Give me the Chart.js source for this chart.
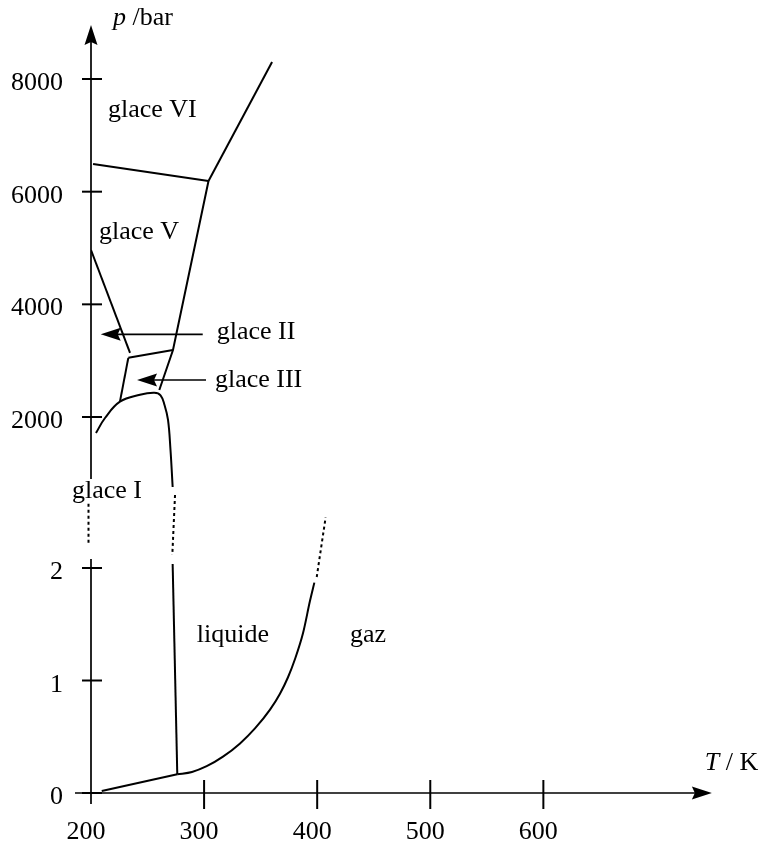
<!DOCTYPE html>
<html>
<head>
<meta charset="utf-8">
<script src="https://cdn.jsdelivr.net/npm/chart.js@4/dist/chart.umd.min.js"></script>
<style>
html,body{margin:0;padding:0;background:#fff;}
#wrap{width:761px;height:844px;position:relative;}
</style>
</head>
<body>
<div id="wrap"><canvas id="diag"></canvas></div>
<script>
// T in K, p in bar. 'hi' = upper part of the broken p axis (thousands of bar), 'lo' = lower part (0-2 bar)

// glace VI / glace VII
var T_VI_VII = [303.9, 360.1];
var P_VI_VII = [6189, 8301];
// glace V / glace VI
var T_V_VI = [201.8, 303.9];
var P_V_VI = [6491, 6189];
// glace V / liquide, then glace III / liquide
var T_V_L = [303.9, 272.5, 260.4];
var P_V_L = [6189, 3189, 2479];
// glace V / glace II
var T_V_II = [200, 234.5];
var P_V_II = [4964, 3140];
// glace II / glace III
var T_II_III = [233.0, 272.5];
var P_II_III = [3050, 3189];
// glace III / glace I
var T_III_I = [233.0, 225.6];
var P_III_I = [3050, 2272];
// glace I / glace III and fusion (upper part)
var T_DOME = [204.4, 212.4, 225.6, 243.3, 256.0, 261.5, 265.0, 268.1, 270.3, 272.2];
var P_DOME = [1716, 1982, 2272, 2395, 2430, 2385, 2213, 1947, 1414, 757];
// fusion, dotted across the break
var T_FUS_DOT = [274.3, 271.9];
var P_FUS_DOT = [616, 2.116];
var PART_FUS_DOT = ['hi', 'lo'];
// fusion (lower part)
var T_FUS = [272.2, 276.3];
var P_FUS = [2.036, 0.166];
// sublimation
var T_SUB = [209.5, 276.3];
var P_SUB = [0.018, 0.166];
// vaporisation
var T_VAP = [276.3, 289.3, 302.3, 316.7, 331.8, 345.0, 358.3, 367.1, 374.2, 380.4, 387.5, 393.6, 397.5];
var P_VAP = [0.166, 0.187, 0.238, 0.323, 0.441, 0.574, 0.741, 0.883, 1.029, 1.191, 1.422, 1.706, 1.870];
var T_VAP_DOT = [399.6, 407.5];
var P_VAP_DOT = [1.92, 2.451];

// ticks
var X_TICKS = [200, 300, 400, 500, 600];
var Y_TICKS = [0, 1, 2, 2000, 4000, 6000, 8000];
var Y_TICK_PART = ['lo', 'lo', 'lo', 'hi', 'hi', 'hi', 'hi'];

// region labels
var LABEL_TEXT = ['glace VI', 'glace V', 'glace II', 'glace III', 'glace I', 'liquide', 'gaz'];
var LABEL_T = [215.0, 207.1, 311.2, 309.6, 183.2, 293.5, 429.0];
var LABEL_P = [7325, 5160, 3385, 2533, 562, 1.345, 1.345];
var LABEL_PART = ['hi', 'hi', 'hi', 'hi', 'hi', 'lo', 'lo'];

// pointer arrows (tail T, tip T, p)
var ARROW_TAIL_T = [298.8, 301.7];
var ARROW_TIP_T = [208.6, 240.7];
var ARROW_P = [3468, 2657];

// broken axis layout
var LO_SCALE = 112.5, HI_BASE = 376, HI_SCALE = 0.05633;
function toV(p, part) {
    return part === 'lo' ? p * LO_SCALE : HI_BASE + (p - 2000) * HI_SCALE;
}

var FONT = '"Liberation Serif", "Times New Roman", serif';

function curve(T, P, part, extra) {
    var pts = T.map(function(t, i) {
        return {x: t, y: toV(P[i], Array.isArray(part) ? part[i] : part)};
    });
    var ds = {data: pts, borderColor: '#000', borderWidth: 2, pointRadius: 0, fill: false, tension: 0};
    for (var k in extra) ds[k] = extra[k];
    return ds;
}

function arrowHead(ctx, tx, ty, dx, dy, len, w) {
    var nx = -dy, ny = dx;
    ctx.beginPath();
    ctx.moveTo(tx, ty);
    ctx.lineTo(tx - len * dx + w * nx, ty - len * dy + w * ny);
    ctx.lineTo(tx - (len - 3) * dx, ty - (len - 3) * dy);
    ctx.lineTo(tx - len * dx - w * nx, ty - len * dy - w * ny);
    ctx.closePath();
    ctx.fill();
}

function seg(ctx, x1, y1, x2, y2) {
    ctx.beginPath();
    ctx.moveTo(x1, y1);
    ctx.lineTo(x2, y2);
    ctx.stroke();
}

var axesPlugin = {
    id: 'axesPlugin',
    afterDraw: function(chart) {
        var ctx = chart.ctx, xs = chart.scales.x, ys = chart.scales.y;
        var X = function(t) { return xs.getPixelForValue(t); };
        var Y = function(p, part) { return ys.getPixelForValue(toV(p, part)); };
        var x0 = X(200), y0 = Y(0, 'lo');
        var topY = Y(8960, 'hi'), rightX = X(749);

        ctx.save();
        ctx.strokeStyle = '#000';
        ctx.fillStyle = '#000';
        ctx.lineWidth = 1.7;

        // y axis with the break
        seg(ctx, x0, topY + 6, x0, Y(900, 'hi'));
        ctx.setLineDash([3, 3]);
        ctx.lineWidth = 2;
        seg(ctx, x0 - 2.5, Y(460, 'hi'), x0 - 2.5, Y(2.2, 'lo'));
        ctx.setLineDash([]);
        ctx.lineWidth = 1.7;
        seg(ctx, x0, Y(2.08, 'lo'), x0, y0 + 11);
        arrowHead(ctx, x0, topY, 0, -1, 20, 6.5);

        // x axis
        seg(ctx, x0 - 16, y0, rightX - 6, y0);
        arrowHead(ctx, rightX, y0, 1, 0, 20, 6.5);

        // ticks
        ctx.lineWidth = 2;
        for (var i = 1; i < X_TICKS.length; i++) {
            seg(ctx, X(X_TICKS[i]), y0 - 13, X(X_TICKS[i]), y0 + 16);
        }
        for (var j = 0; j < Y_TICKS.length; j++) {
            var ty = Y(Y_TICKS[j], Y_TICK_PART[j]);
            seg(ctx, x0 - 9, ty, x0 + 11, ty);
        }

        ctx.font = '26px ' + FONT;
        ctx.textBaseline = 'alphabetic';
        ctx.textAlign = 'center';
        X_TICKS.forEach(function(t) {
            ctx.fillText(String(t), X(t) - 5, y0 + 46);
        });
        ctx.textAlign = 'right';
        for (var k = 0; k < Y_TICKS.length; k++) {
            ctx.fillText(String(Y_TICKS[k]), 63, Y(Y_TICKS[k], Y_TICK_PART[k]) + 11);
        }

        // region labels
        ctx.textAlign = 'left';
        for (var m = 0; m < LABEL_TEXT.length; m++) {
            ctx.fillText(LABEL_TEXT[m], X(LABEL_T[m]), Y(LABEL_P[m], LABEL_PART[m]));
        }

        // pointer arrows
        ctx.lineWidth = 1.7;
        for (var a = 0; a < ARROW_P.length; a++) {
            var ay = Y(ARROW_P[a], 'hi');
            seg(ctx, X(ARROW_TAIL_T[a]), ay, X(ARROW_TIP_T[a]) + 8, ay);
            arrowHead(ctx, X(ARROW_TIP_T[a]), ay, -1, 0, 20, 6.5);
        }

        // axis titles
        ctx.font = 'italic 26px ' + FONT;
        ctx.fillText('p', x0 + 22, topY);
        var pw = ctx.measureText('p').width;
        ctx.fillText('T', rightX - 7, y0 - 23);
        var tw = ctx.measureText('T').width;
        ctx.font = '26px ' + FONT;
        ctx.fillText(' /bar', x0 + 22 + pw, topY);
        ctx.fillText(' / K', rightX - 7 + tw, y0 - 23);

        ctx.restore();
    }
};

new Chart(document.getElementById('diag'), {
    type: 'line',
    data: {
        datasets: [
            curve(T_VI_VII, P_VI_VII, 'hi'),
            curve(T_V_VI, P_V_VI, 'hi'),
            curve(T_V_L, P_V_L, 'hi'),
            curve(T_V_II, P_V_II, 'hi'),
            curve(T_II_III, P_II_III, 'hi'),
            curve(T_III_I, P_III_I, 'hi'),
            curve(T_DOME, P_DOME, 'hi', {tension: 0.4}),
            curve(T_FUS_DOT, P_FUS_DOT, PART_FUS_DOT, {borderDash: [3, 3]}),
            curve(T_FUS, P_FUS, 'lo'),
            curve(T_SUB, P_SUB, 'lo'),
            curve(T_VAP, P_VAP, 'lo', {cubicInterpolationMode: 'monotone'}),
            curve(T_VAP_DOT, P_VAP_DOT, 'lo', {borderDash: [3, 3]})
        ]
    },
    options: {
        responsive: true,
        maintainAspectRatio: false,
        animation: false,
        parsing: false,
        layout: {padding: {left: 91, right: 48, top: 10, bottom: 51}},
        plugins: {legend: {display: false}, tooltip: {enabled: false}},
        scales: {
            x: {type: 'linear', display: false, min: 200, max: 750},
            y: {type: 'linear', display: false, min: 0, max: 783}
        }
    },
    plugins: [axesPlugin]
});
</script>
</body>
</html>
